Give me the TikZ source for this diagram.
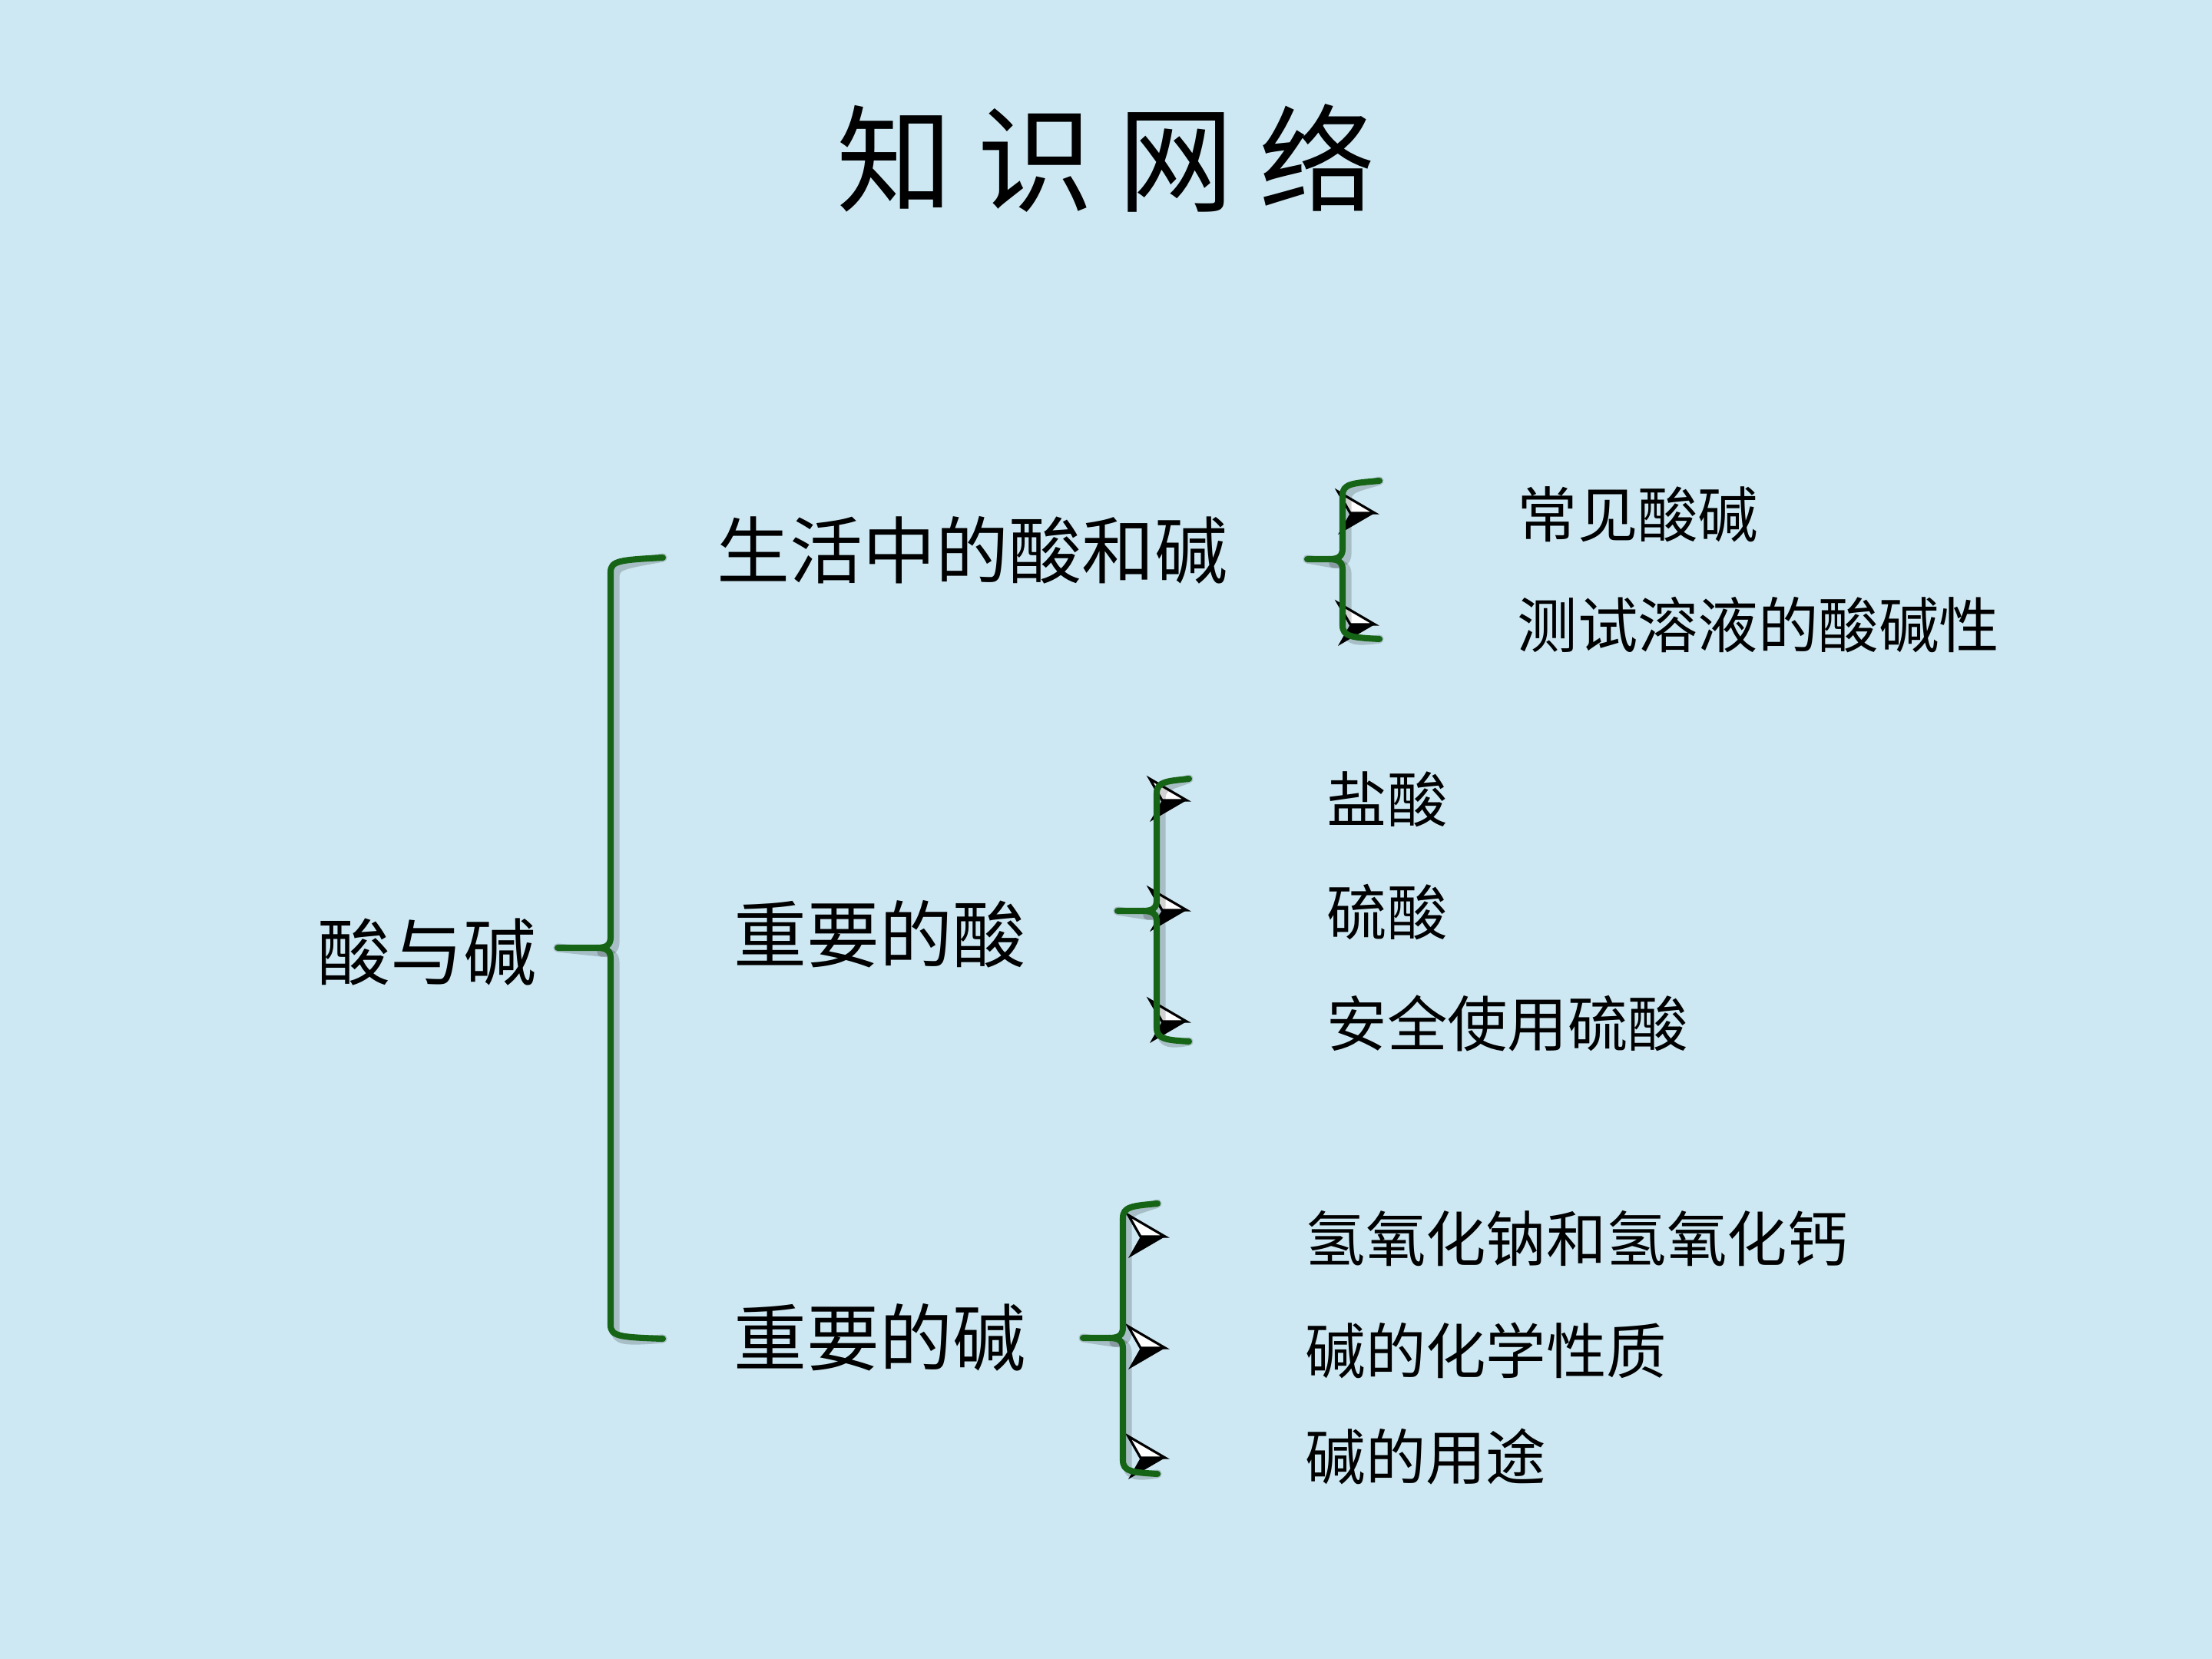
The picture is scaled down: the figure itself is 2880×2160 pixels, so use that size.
\documentclass[tikz,border=0pt]{standalone}
\usepackage{fontspec}
\newfontfamily\cjk{Noto Sans CJK SC}
\definecolor{bg}{RGB}{205,232,242}
\definecolor{brgreen}{RGB}{22,100,22}
\newcommand\drawbrace[7]{% #1 name, #2 vx, #3 top, #4 mid, #5 bottom, #6 tip x, #7 arm end
  \coordinate (#1-tip) at (#6,#4);
  \coordinate (#1-top) at (#7,#3-3);
  \coordinate (#1-bot) at (#7,#5+2);
  \foreach \sx/\sty in {6/braceshadow,0/brace}{
  \draw[\sty,shift={(\sx,\sx)}] (#1-top) .. controls (#2+12,#3) and (#2,#3+1) .. (#2,#3+16) -- (#2,#4-14)
     .. controls (#2,#4-3) and (#2-6,#4) .. (#2-18,#4) -- (#1-tip);
  \draw[\sty,shift={(\sx,\sx)}] (#2-18,#4) .. controls (#2-6,#4) and (#2,#4+3) .. (#2,#4+14) -- (#2,#5-16)
     .. controls (#2,#5-1) and (#2+12,#5) .. (#1-bot);
  }
}
\begin{document}
\begin{tikzpicture}[x=0.01cm,y=-0.01cm,
  main/.style={anchor=west,inner sep=0pt,font=\cjk\fontsize{27}{30}\selectfont},
  sub/.style={anchor=west,inner sep=0pt,font=\cjk\fontsize{22.3}{26}\selectfont},
  brace/.style={draw=brgreen,line width=2.3pt,line cap=round,line join=round},
  braceshadow/.style={draw=black,opacity=0.18,line width=3.2pt,line cap=round,line join=round},
  bul/.pic={
    \fill[black] (0,0) -- (-32,0) -- (-48,28) -- cycle;
    \filldraw[fill=white,draw=black,line width=0.9pt,line join=miter] (0,0) -- (-48,-28) -- (-32,0) -- cycle;
  }]
\fill[bg] (0,0) rectangle (2880,2160);
\useasboundingbox (0,0) rectangle (2880,2160);

% title
\node (title) at (1440,206) {\cjk\fontsize{43}{50}\selectfont 知\hspace{0.32cm}识\hspace{0.32cm}网\hspace{0.32cm}络};

% labels
\node[main] (root) at (413,1240) {酸与碱};
\node[main] (life) at (933,716) {生活中的酸和碱};
\node[main] (acid) at (955,1216) {重要的酸};
\node[main] (base) at (955,1741) {重要的碱};

\node[sub] (l1) at (1975,670) {常见酸碱};
\node[sub] (l2) at (1975,814) {测试溶液的酸碱性};
\node[sub] (a1) at (1727,1041) {盐酸};
\node[sub] (a2) at (1727,1188) {硫酸};
\node[sub] (a3) at (1727,1332) {安全使用硫酸};
\node[sub] (b1) at (1699,1613) {氢氧化钠和氢氧化钙};
\node[sub] (b2) at (1699,1758) {碱的化学性质};
\node[sub] (b3) at (1699,1897) {碱的用途};

% bullets
\pic at (1790,668) {bul};
\pic at (1790,813) {bul};
\pic at (1545,1042) {bul};
\pic at (1545,1185) {bul};
\pic at (1545,1330) {bul};
\pic at (1517,1610) {bul};
\pic at (1517,1755) {bul};
\pic at (1517,1898) {bul};

% braces
\drawbrace{big}{795}{729}{1234}{1741}{726}{863}
\drawbrace{bl}{1748}{629}{728}{830}{1702}{1796}
\drawbrace{ba}{1506}{1017}{1186}{1354}{1455}{1548}
\drawbrace{bb}{1462}{1570}{1742}{1917}{1410}{1507}
\end{tikzpicture}
\end{document}
